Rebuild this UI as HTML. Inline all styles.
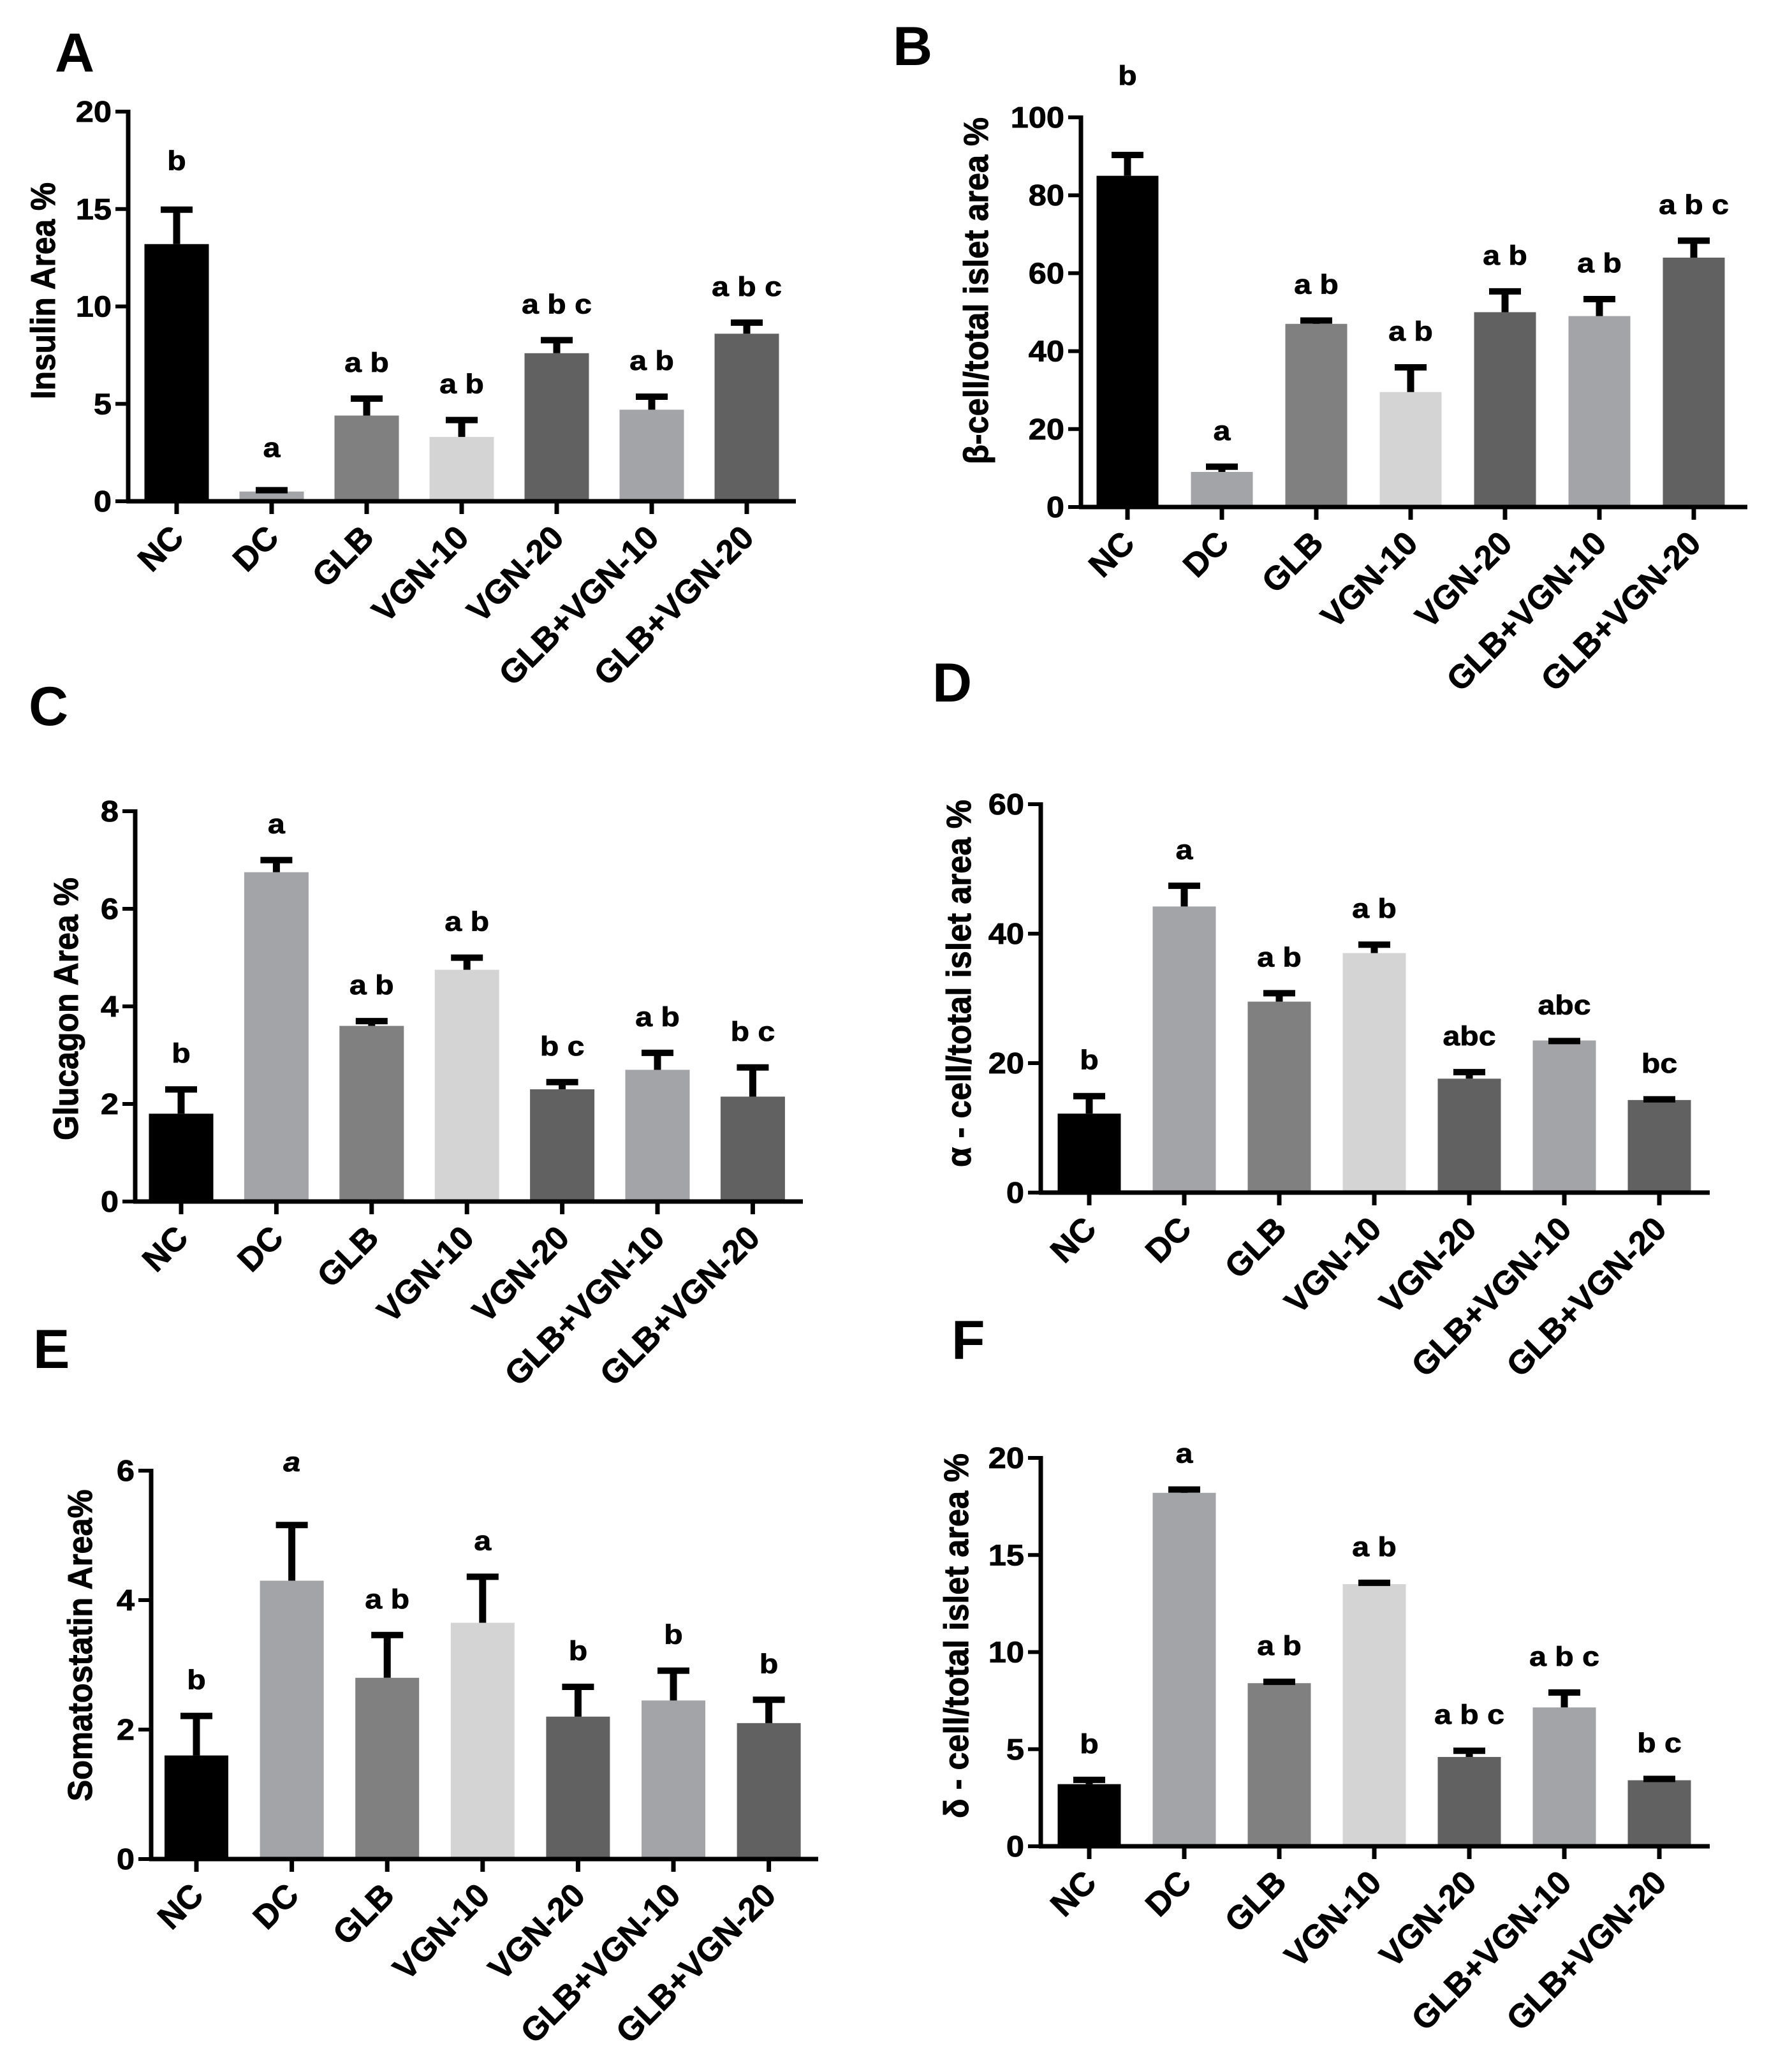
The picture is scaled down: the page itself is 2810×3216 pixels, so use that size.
<!DOCTYPE html>
<html>
<head>
<meta charset="utf-8">
<style>
html,body{margin:0;padding:0;background:#fff;}
svg{display:block;}
text{font-family:"Liberation Sans",Arial,sans-serif;font-weight:bold;fill:#000;}
</style>
</head>
<body>
<svg id="fig" width="2810" height="3216" viewBox="0 0 2810 3216" xmlns="http://www.w3.org/2000/svg">
<rect width="2810" height="3216" fill="#fff"/>
</svg>
<script>
const categories = ["NC","DC","GLB","VGN-10","VGN-20","GLB+VGN-10","GLB+VGN-20"];

const valuesA = [13.2,0.5,4.4,3.3,7.6,4.7,8.6];
const errorsA = [1.9,0.2,1.0,1.0,0.8,0.8,0.7];
const lettersA = ["b","a","a b","a b","a b c","a b","a b c"];
const ticksA = [0,5,10,15,20];

const valuesB = [85,9,47,29.5,50,49,64];
const errorsB = [6,2,1.5,7,6,5,5];
const lettersB = ["b","a","a b","a b","a b","a b","a b c"];
const ticksB = [0,20,40,60,80,100];

const valuesC = [1.8,6.75,3.6,4.75,2.3,2.7,2.15];
const errorsC = [0.55,0.3,0.15,0.3,0.2,0.4,0.65];
const lettersC = ["b","a","a b","a b","b c","a b","b c"];
const ticksC = [0,2,4,6,8];

const valuesD = [12.2,44.2,29.5,37,17.6,23.5,14.3];
const errorsD = [3.1,3.6,1.7,1.7,1.4,0.3,0.5];
const lettersD = ["b","a","a b","a b","abc","abc","bc"];
const ticksD = [0,20,40,60];

const valuesE = [1.6,4.3,2.8,3.65,2.2,2.45,2.1];
const errorsE = [0.65,0.9,0.7,0.75,0.5,0.5,0.4];
const lettersE = ["b","a","a b","a","b","b","b"];
const ticksE = [0,2,4,6];

const valuesF = [3.2,18.2,8.4,13.5,4.6,7.15,3.4];
const errorsF = [0.35,0.3,0.2,0.2,0.45,0.9,0.2];
const lettersF = ["b","a","a b","a b","a b c","a b c","b c"];
const ticksF = [0,5,10,15,20];

const barColors = ["#000000","#a3a4a7","#808080","#d4d4d4","#616161","#a3a4a7","#616161"];

const NS = "http://www.w3.org/2000/svg";
const svg = document.getElementById("fig");
function mk(tag, attrs, parent){
  const e = document.createElementNS(NS, tag);
  for (const k in attrs) e.setAttribute(k, attrs[k]);
  (parent||svg).appendChild(e);
  return e;
}

function drawChart(id, values, errors, letters, ticks, L){
  const g = mk("g", {});
  
  
  const max = ticks[ticks.length-1];
  const yS = v => L.y0 - (v/max)*(L.y0 - L.yTop);
  const xS = i => L.c0 + i*L.step;

  const pl = mk("text", {x:L.px, y:L.py, "font-size":86}, g);
  pl.textContent = id;
  
  

  values.forEach((v,i)=>{
    const r = mk("rect", {x:xS(i)-L.bw/2, y:yS(v), width:L.bw, height:L.y0-yS(v), fill:barColors[i]}, g);
    
    
  });
  values.forEach((v,i)=>{
    const top = yS(v+errors[i]);
    const eg = mk("g", {}, g);
    
    
    mk("line", {x1:xS(i), x2:xS(i), y1:yS(v), y2:top+4, stroke:"#000","stroke-width":11}, eg);
    mk("line", {x1:xS(i)-25, x2:xS(i)+25, y1:top+4, y2:top+4, stroke:"#000","stroke-width":10}, eg);
    const gap = (L.gaps && L.gaps[i]!==undefined) ? L.gaps[i] : 38;
    const t = mk("text", {"text-anchor":"middle", "font-size":43, "stroke":"#000", "stroke-width":0.8,
      transform:"translate("+xS(i)+","+(top-gap)+") scale(1.12,1)"}, g);
    if (L.italic && L.italic[i]) t.setAttribute("font-style","italic");
    t.textContent = letters[i];
    
    
  });

  const ax = mk("line", {x1:L.axX, x2:L.axX, y1:L.yTop-3, y2:L.y0+3, stroke:"#000","stroke-width":7}, g);
  
  
  const bx = mk("line", {x1:L.axX-3, x2:L.xEnd, y1:L.y0, y2:L.y0, stroke:"#000","stroke-width":7}, g);
  
  

  ticks.forEach(tv=>{
    const y = yS(tv);
    mk("line", {x1:L.axX-20, x2:L.axX, y1:y, y2:y, stroke:"#000","stroke-width":6}, g);
    const t = mk("text", {"text-anchor":"end","font-size":46, "stroke":"#000", "stroke-width":0.8,
      transform:"translate("+(L.axX-26)+","+(y+16)+") scale(1.1,1)"}, g);
    t.textContent = tv;
    
    
  });

  categories.forEach((c,i)=>{
    const x = xS(i);
    mk("line", {x1:x, x2:x, y1:L.y0, y2:L.y0+20, stroke:"#000","stroke-width":7}, g);
    const t = mk("text", {"text-anchor":"end","font-size":52, "stroke":"#000", "stroke-width":0.8,
      transform:"translate("+(x+14)+","+(L.y0+60)+") rotate(-45)"}, g);
    t.textContent = c;
    
    
  });

  const yt = mk("text", {"text-anchor":"middle","font-size":54, textLength:L.tlen, lengthAdjust:"spacingAndGlyphs",
    "stroke":"#000", "stroke-width":1,
    transform:"translate("+(L.tx+19)+","+L.ty+") rotate(-90)"}, g);
  yt.textContent = L.title;
  
  
}

drawChart("A", valuesA, errorsA, lettersA, ticksA,
  {axX:201,y0:786,yTop:175,xEnd:1248,c0:277,step:149,bw:101,tx:67,ty:456,tlen:340,
   title:"Insulin Area %",px:86,py:112,gaps:{0:58,1:48}});
drawChart("B", valuesB, errorsB, lettersB, ticksB,
  {axX:1695,y0:795,yTop:184,xEnd:2740,c0:1768,step:148,bw:97,tx:1530,ty:456,tlen:544,
   title:"β-cell/total islet area %",px:1400,py:102,gaps:{0:106}});
drawChart("C", valuesC, errorsC, lettersC, ticksC,
  {axX:212,y0:1884,yTop:1272,xEnd:1259,c0:284,step:149.4,bw:101,tx:103,ty:1582,tlen:412,
   title:"Glucagon Area %",px:45,py:1137});
drawChart("D", valuesD, errorsD, lettersD, ticksD,
  {axX:1632,y0:1870,yTop:1261,xEnd:2681,c0:1708,step:149,bw:99,tx:1503,ty:1542,tlen:576,
   title:"α - cell/total islet area %",px:1462,py:1100});
drawChart("E", valuesE, errorsE, lettersE, ticksE,
  {axX:237,y0:2915,yTop:2306,xEnd:1283,c0:308,step:149.6,bw:100,tx:125,ty:2580,tlen:489,
   title:"Somatostatin Area%",px:52,py:2145,italic:{1:true},gaps:{1:80}});
drawChart("F", valuesF, errorsF, lettersF, ticksF,
  {axX:1632,y0:2895,yTop:2286,xEnd:2681,c0:1708,step:149,bw:99,tx:1499,ty:2565,tlen:572,
   title:"δ - cell/total islet area %",px:1492,py:2131});
</script>
</body>
</html>
